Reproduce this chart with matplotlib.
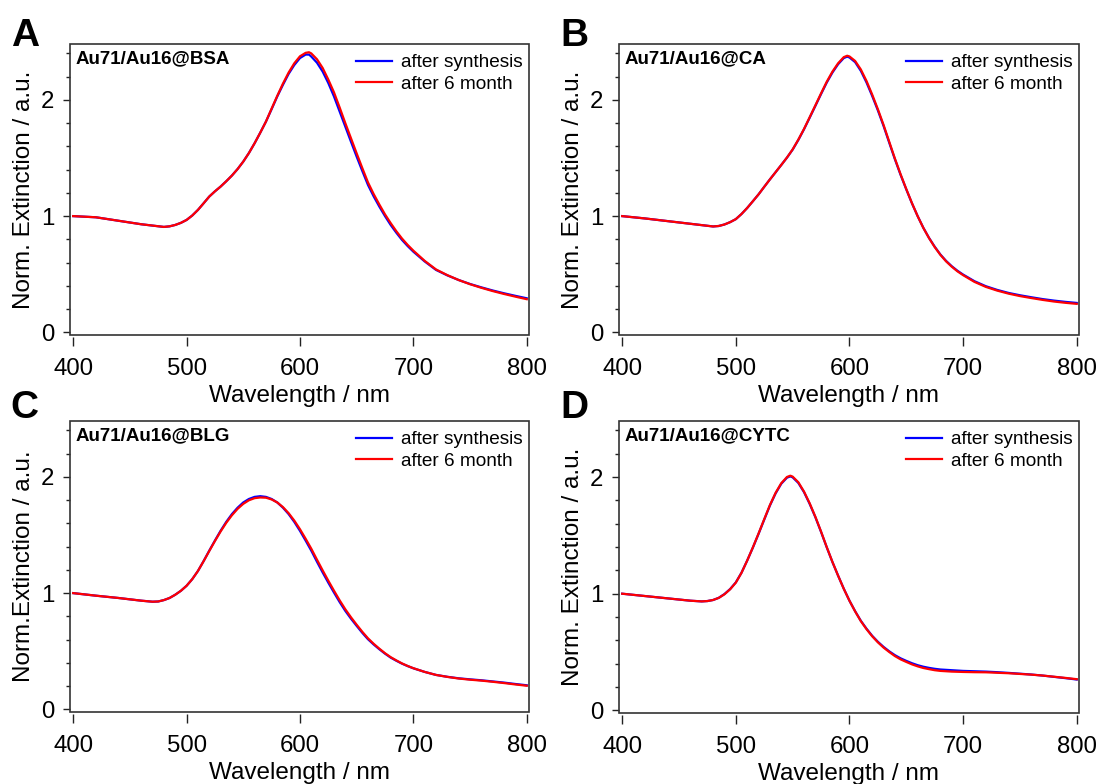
import numpy as np
import matplotlib.pyplot as plt
from matplotlib.patches import Rectangle

plt.rcParams['font.family'] = ['Liberation Sans', 'DejaVu Sans']

# panel A: Au71/Au16@BSA
wl_a = [400, 420, 440, 460, 480, 485, 490, 495, 500, 505, 510, 515, 520, 525, 530, 535, 540, 545,
        550, 555, 560, 565, 570, 575, 580, 585, 590, 595, 600, 605, 608, 610, 615, 620, 625, 630,
        635, 640, 645, 650, 655, 660, 665, 670, 675, 680, 685, 690, 695, 700, 710, 720, 730, 740,
        750, 760, 770, 780, 790, 800]
a_synth = [1.0, 0.99, 0.96, 0.93, 0.907, 0.912, 0.924, 0.942, 0.967, 1.005, 1.053, 1.11, 1.168, 1.213,
           1.254, 1.30, 1.349, 1.405, 1.469, 1.543, 1.627, 1.718, 1.813, 1.92, 2.03, 2.13, 2.224, 2.30,
           2.36, 2.39, 2.39, 2.373, 2.32, 2.244, 2.145, 2.03, 1.90, 1.77, 1.64, 1.512, 1.388, 1.268,
           1.17, 1.082, 1.0, 0.924, 0.857, 0.795, 0.742, 0.694, 0.61, 0.537, 0.49, 0.45, 0.416, 0.387,
           0.36, 0.336, 0.314, 0.293]
a_6m = [1.0, 0.99, 0.96, 0.93, 0.907, 0.912, 0.924, 0.942, 0.967, 1.005, 1.053, 1.11, 1.168, 1.213,
        1.254, 1.30, 1.349, 1.405, 1.469, 1.543, 1.627, 1.718, 1.813, 1.925, 2.035, 2.14, 2.235, 2.315,
        2.375, 2.405, 2.41, 2.40, 2.35, 2.275, 2.175, 2.065, 1.935, 1.80, 1.67, 1.54, 1.413, 1.29,
        1.19, 1.10, 1.015, 0.94, 0.87, 0.807, 0.752, 0.703, 0.615, 0.541, 0.492, 0.45, 0.414, 0.383,
        0.355, 0.33, 0.307, 0.285]

# panel B: Au71/Au16@CA
wl_b = [400, 420, 440, 460, 480, 485, 490, 495, 500, 505, 510, 515, 520, 525, 530, 535, 540, 545,
        550, 555, 560, 565, 570, 575, 580, 585, 590, 595, 598, 600, 605, 610, 615, 620, 625, 630,
        635, 640, 645, 650, 655, 660, 665, 670, 675, 680, 685, 690, 695, 700, 710, 720, 730, 740,
        750, 760, 770, 780, 790, 800]
b_synth = [1.0, 0.98, 0.957, 0.934, 0.911, 0.915, 0.928, 0.948, 0.974, 1.018, 1.07, 1.128, 1.187, 1.252,
           1.316, 1.378, 1.44, 1.503, 1.572, 1.655, 1.747, 1.847, 1.948, 2.05, 2.149, 2.235, 2.307, 2.36,
           2.372, 2.365, 2.325, 2.25, 2.15, 2.034, 1.91, 1.776, 1.632, 1.489, 1.355, 1.23, 1.11, 1.0,
           0.9, 0.813, 0.737, 0.67, 0.615, 0.569, 0.53, 0.497, 0.44, 0.397, 0.365, 0.339, 0.319, 0.302,
           0.286, 0.273, 0.262, 0.253]
b_6m = [1.0, 0.98, 0.957, 0.934, 0.911, 0.915, 0.928, 0.948, 0.974, 1.018, 1.07, 1.128, 1.187, 1.252,
        1.316, 1.378, 1.44, 1.504, 1.574, 1.658, 1.75, 1.851, 1.953, 2.056, 2.156, 2.243, 2.315, 2.368,
        2.38, 2.374, 2.335, 2.262, 2.163, 2.046, 1.92, 1.785, 1.64, 1.495, 1.36, 1.233, 1.112, 1.0,
        0.899, 0.811, 0.734, 0.667, 0.611, 0.565, 0.525, 0.492, 0.434, 0.391, 0.359, 0.333, 0.312, 0.295,
        0.279, 0.265, 0.254, 0.245]

# panel C: Au71/Au16@BLG
wl_c = [400, 420, 440, 460, 470, 475, 480, 485, 490, 495, 500, 505, 510, 515, 520, 525, 530, 535,
        540, 545, 550, 555, 560, 565, 570, 575, 580, 585, 590, 595, 600, 605, 610, 615, 620, 625,
        630, 635, 640, 645, 650, 655, 660, 665, 670, 675, 680, 685, 690, 695, 700, 710, 720, 730,
        740, 750, 760, 770, 780, 790, 800]
c_synth = [1.0, 0.978, 0.958, 0.935, 0.926, 0.928, 0.94, 0.958, 0.986, 1.02, 1.063, 1.12, 1.19, 1.275,
           1.365, 1.452, 1.536, 1.613, 1.68, 1.735, 1.78, 1.81, 1.828, 1.834, 1.828, 1.81, 1.78, 1.735,
           1.68, 1.613, 1.536, 1.452, 1.365, 1.27, 1.178, 1.09, 1.005, 0.923, 0.847, 0.78, 0.718, 0.658,
           0.603, 0.558, 0.517, 0.479, 0.445, 0.418, 0.393, 0.372, 0.353, 0.322, 0.296, 0.28, 0.267,
           0.258, 0.25, 0.24, 0.23, 0.218, 0.207]
c_6m = [1.0, 0.978, 0.958, 0.935, 0.926, 0.928, 0.94, 0.958, 0.986, 1.02, 1.063, 1.12, 1.19, 1.274,
        1.362, 1.448, 1.53, 1.605, 1.67, 1.725, 1.768, 1.799, 1.817, 1.823, 1.821, 1.806, 1.78, 1.74,
        1.688, 1.624, 1.55, 1.468, 1.382, 1.288, 1.196, 1.107, 1.021, 0.938, 0.861, 0.792, 0.728, 0.667,
        0.611, 0.564, 0.522, 0.483, 0.449, 0.421, 0.395, 0.373, 0.354, 0.322, 0.296, 0.279, 0.265,
        0.255, 0.247, 0.237, 0.226, 0.214, 0.203]

# panel D: Au71/Au16@CYTC
wl_d = [400, 420, 440, 460, 470, 475, 480, 485, 490, 495, 500, 505, 510, 515, 520, 525, 530, 535,
        540, 545, 548, 550, 555, 560, 565, 570, 575, 580, 585, 590, 595, 600, 605, 610, 615, 620,
        625, 630, 635, 640, 645, 650, 655, 660, 665, 670, 675, 680, 690, 700, 710, 720, 730, 740,
        750, 760, 770, 780, 790, 800]
d_synth = [1.0, 0.98, 0.96, 0.94, 0.934, 0.937, 0.946, 0.965, 0.997, 1.04, 1.097, 1.18, 1.284, 1.395,
           1.513, 1.635, 1.756, 1.86, 1.943, 1.995, 2.006, 1.998, 1.95, 1.871, 1.77, 1.656, 1.53, 1.398,
           1.272, 1.155, 1.043, 0.94, 0.85, 0.768, 0.7, 0.639, 0.588, 0.544, 0.506, 0.473, 0.446, 0.424,
           0.404, 0.387, 0.374, 0.364, 0.356, 0.35, 0.344, 0.338, 0.335, 0.332, 0.327, 0.321, 0.314,
           0.307, 0.298, 0.287, 0.276, 0.264]
d_6m = [1.0, 0.98, 0.96, 0.94, 0.934, 0.937, 0.946, 0.964, 0.995, 1.038, 1.095, 1.179, 1.284, 1.397,
        1.516, 1.639, 1.76, 1.865, 1.948, 2.001, 2.012, 2.004, 1.956, 1.876, 1.775, 1.66, 1.533, 1.40,
        1.273, 1.155, 1.042, 0.94, 0.848, 0.765, 0.696, 0.635, 0.583, 0.538, 0.5, 0.465, 0.437, 0.415,
        0.394, 0.377, 0.363, 0.353, 0.344, 0.338, 0.332, 0.329, 0.327, 0.326, 0.322, 0.318, 0.312,
        0.306, 0.298, 0.288, 0.278, 0.267]

panels = [
    ('A', 'Au71/Au16@BSA', 'Norm. Extinction / a.u.', wl_a, a_synth, a_6m),
    ('B', 'Au71/Au16@CA', 'Norm. Extinction / a.u.', wl_b, b_synth, b_6m),
    ('C', 'Au71/Au16@BLG', 'Norm.Extinction / a.u.', wl_c, c_synth, c_6m),
    ('D', 'Au71/Au16@CYTC', 'Norm. Extinction / a.u.', wl_d, d_synth, d_6m),
]

W, H = 1097, 784
# frame boxes in pixels: left, top, right, bottom
boxes = [(70, 44, 529, 335), (619, 44, 1079, 335), (70, 421, 529, 712), (619, 421, 1079, 713)]
letters_xy = [(11, 46), (560, 46), (10, 418.5), (560, 418.5)]

fig = plt.figure(figsize=(W / 100, H / 100), dpi=100)

for (letter, name, ylab, wl, s1, s2), (l, t, r, b), (lx, ly) in zip(panels, boxes, letters_xy):
    ax = fig.add_axes([l / W, 1 - b / H, (r - l) / W, (b - t) / H])
    ax.plot(wl, s1, color='#0000ff', lw=1.6, label='after synthesis', solid_joinstyle='round')
    ax.plot(wl, s2, color='#ff0000', lw=1.6, label='after 6 month', solid_joinstyle='round')
    ax.set_xlim(397.2, 802.0)
    ax.set_ylim(-0.023, 2.481)
    ax.set_xticks([400, 500, 600, 700, 800])
    ax.set_yticks([0, 1, 2])
    ax.set_yticks(np.arange(0, 2.41, 0.2), minor=True)
    ax.tick_params(axis='both', direction='out', labelsize=17.3, width=1, color='#222222')
    ax.tick_params(axis='x', length=6.5, pad=8.3)
    ax.tick_params(axis='y', length=5, pad=6.5)
    ax.tick_params(axis='y', which='minor', direction='out', width=1, length=3.2, color='#222222')
    for sp in ['top', 'right']:
        ax.spines[sp].set_visible(False)
    ax.spines['bottom'].set_position(('outward', 1.5))
    for sp in ['bottom', 'left']:
        ax.spines[sp].set_linewidth(0)
    ax.add_patch(Rectangle((0, 0), 1, 1, transform=ax.transAxes, fill=False,
                           lw=1.2, edgecolor='#333333', clip_on=False, zorder=5))
    ax.set_xlabel('Wavelength / nm', fontsize=17.5, labelpad=4)
    ax.set_ylabel(ylab, fontsize=17.5, labelpad=4.3)
    ax.text(6 / (r - l), 1 - 19.5 / (b - t), name, transform=ax.transAxes,
            fontsize=13.5, fontweight='bold', va='baseline')
    ax.legend(loc='upper right', frameon=False, fontsize=13.7, handlelength=1.87, handletextpad=0.46,
              labelspacing=0.22, borderaxespad=0, borderpad=0,
              bbox_to_anchor=(1 - 6.7 / (r - l), 1 - 10 / (b - t)))
    fig.text(lx / W, 1 - ly / H, letter, fontsize=28, fontweight='bold', va='baseline')

fig.savefig('out.png', dpi=100)
